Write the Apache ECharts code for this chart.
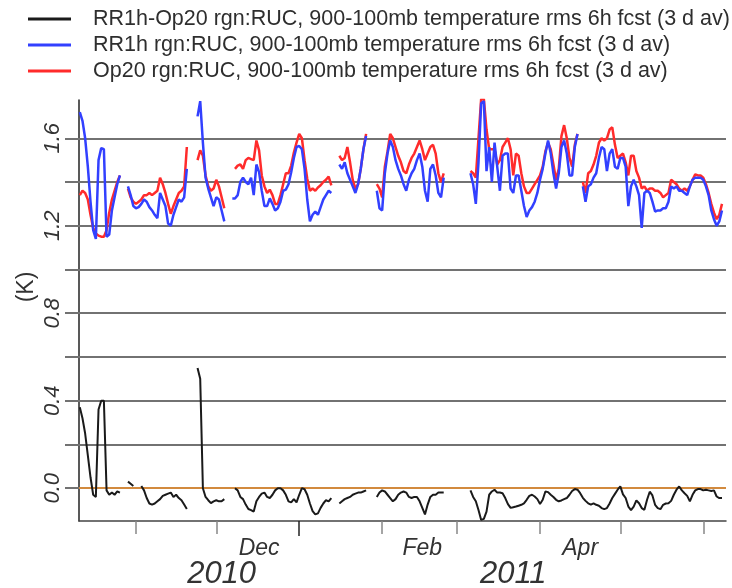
<!DOCTYPE html>
<html><head><meta charset="utf-8">
<script src="https://cdn.jsdelivr.net/npm/echarts@6/dist/echarts.min.js"></script>
<style>html,body{margin:0;padding:0;background:#fff}#c{width:732px;height:588px}</style>
</head><body><div id="c"></div>
<script>
// ---- data (daily values starting at startDate; null = missing) ----
const startDate = '2010-10-11';
const seriesNames = [
  'RR1h-Op20 rgn:RUC, 900-100mb temperature rms 6h fcst (3 d av)',
  'RR1h rgn:RUC, 900-100mb temperature rms 6h fcst (3 d av)',
  'Op20 rgn:RUC, 900-100mb temperature rms 6h fcst (3 d av)'
];
const diffValues = [
  0.37,0.32,0.25,0.15,0.05,-0.03,-0.04,0.36,0.40,0.40,-0.01,-0.03,-0.02,-0.03,-0.015,-0.02,
  null,null,
  0.03,0.02,0.01,null,null,0.01,-0.01,-0.045,-0.07,-0.075,-0.07,-0.06,-0.05,-0.035,-0.03,-0.025,-0.02,-0.04,-0.03,-0.045,-0.055,-0.075,-0.095,
  null,null,null,
  0.55,0.50,0.0,-0.04,-0.055,-0.068,-0.06,-0.055,-0.06,-0.06,-0.05,
  null,null,null,
  0.0,-0.01,-0.04,-0.05,-0.075,-0.095,-0.10,-0.107,-0.06,-0.04,-0.025,-0.02,-0.04,-0.045,-0.03,-0.01,0.0,0.0,-0.01,-0.03,-0.06,-0.065,-0.05,-0.065,-0.03,0.0,-0.005,-0.03,-0.07,-0.105,-0.12,-0.115,-0.09,-0.07,-0.055,-0.06,-0.045,
  null,null,
  -0.07,-0.06,-0.05,-0.045,-0.04,-0.03,-0.025,-0.02,-0.02,-0.015,-0.01,
  null,null,null,
  -0.04,-0.02,-0.01,-0.015,-0.03,-0.045,-0.06,-0.05,-0.03,-0.02,-0.015,-0.02,-0.04,-0.045,-0.04,-0.04,-0.06,-0.09,-0.12,-0.075,-0.04,-0.03,-0.03,-0.02,-0.02,-0.02,
  null,null,null,null,null,null,null,null,null,
  -0.01,-0.04,-0.06,-0.10,-0.145,-0.14,-0.107,-0.03,-0.015,-0.007,-0.02,-0.02,-0.023,-0.045,-0.073,-0.09,-0.087,-0.084,-0.08,-0.076,
  -0.069,-0.053,-0.035,-0.03,-0.038,-0.05,-0.072,-0.053,-0.015,-0.018,-0.03,-0.04,-0.053,-0.06,-0.056,-0.05,-0.045,-0.03,-0.013,-0.004,
  -0.007,-0.023,-0.044,-0.058,-0.069,-0.075,-0.069,-0.076,-0.08,-0.091,-0.096,-0.091,-0.07,-0.045,-0.026,-0.007,0.008,-0.028,-0.045,-0.084,
  -0.10,-0.084,-0.056,-0.069,-0.091,-0.099,-0.053,-0.016,-0.033,-0.076,-0.091,-0.096,-0.076,-0.07,-0.069,-0.058,-0.03,-0.007,0.008,-0.01,
  -0.023,-0.035,-0.06,-0.03,-0.01,-0.004,-0.004,-0.01,-0.007,-0.01,-0.013,-0.01,-0.038,-0.045,-0.045
];
const rr1hValues = [
  1.72,1.68,1.60,1.47,1.31,1.18,1.14,1.50,1.555,1.55,1.15,1.16,1.27,1.33,1.39,1.43,
  null,null,
  1.38,1.34,1.29,1.28,1.285,1.30,1.32,1.31,1.285,1.27,1.25,1.235,1.35,1.32,1.29,1.21,1.20,1.25,1.285,1.32,1.31,1.33,1.46,
  null,null,null,
  1.70,1.77,1.58,1.42,1.37,1.33,1.29,1.33,1.32,1.27,1.22,
  null,null,
  1.325,1.325,1.34,1.40,1.42,1.40,1.39,1.42,1.34,1.48,1.445,1.36,1.29,1.29,1.325,1.30,1.27,1.28,1.31,1.36,1.365,1.39,1.445,1.51,1.56,1.565,1.55,1.46,1.32,1.22,1.25,1.265,1.25,1.285,1.32,1.34,1.36,1.35,
  null,null,
  1.48,1.46,1.49,1.44,1.41,1.38,1.35,1.39,1.46,1.55,1.61,
  null,null,null,
  1.36,1.28,1.27,1.44,1.53,1.59,1.56,1.50,1.46,1.43,1.39,1.36,1.41,1.44,1.46,1.50,1.53,1.47,1.36,1.31,1.46,1.48,1.43,1.35,1.33,1.42,
  null,null,null,null,null,null,null,null,null,
  1.44,1.39,1.30,1.49,1.76,1.77,1.45,1.56,1.40,1.58,1.47,1.36,1.52,1.53,1.53,1.37,1.35,1.43,1.43,1.36,1.29,1.24,1.27,1.285,1.31,1.35,1.41,1.46,1.53,1.59,1.53,1.44,1.37,1.44,1.56,1.59,1.53,1.43,1.43,1.56,1.62,
  null,
  1.38,1.31,1.38,1.39,1.42,1.44,1.51,1.56,1.55,1.45,1.53,1.55,1.47,1.46,1.51,1.51,1.47,1.29,1.38,1.41,1.38,1.34,1.19,1.35,1.36,1.35,1.31,1.265,1.27,1.27,1.28,1.28,1.31,1.38,1.37,1.38,1.36,1.36,1.35,1.34,1.38,1.41,1.42,1.42,1.42,1.41,1.38,1.34,1.27,1.23,1.20,1.22,1.27
];
const op20Values = [
  1.34,1.36,1.35,1.32,1.25,1.19,1.165,1.155,1.15,1.15,1.18,1.26,1.32,1.36,1.40,1.43,
  null,null,
  1.37,1.33,1.31,1.30,1.31,1.32,1.34,1.34,1.35,1.34,1.35,1.36,1.42,1.39,1.35,1.30,1.255,1.29,1.32,1.35,1.36,1.38,1.56,
  null,null,null,
  1.50,1.545,1.52,1.43,1.38,1.36,1.37,1.41,1.38,1.33,1.28,
  null,null,null,
  1.46,1.475,1.48,1.46,1.50,1.51,1.505,1.50,1.59,1.545,1.43,1.38,1.35,1.365,1.34,1.30,1.30,1.34,1.39,1.44,1.44,1.475,1.535,1.58,1.62,1.60,1.50,1.415,1.36,1.37,1.36,1.375,1.385,1.40,1.41,1.425,1.385,
  null,null,
  1.52,1.50,1.51,1.56,1.49,1.41,1.37,1.39,1.46,1.55,1.62,
  null,null,null,
  1.39,1.37,1.33,1.47,1.54,1.62,1.60,1.56,1.52,1.49,1.45,1.44,1.48,1.51,1.53,1.56,1.59,1.55,1.50,1.53,1.56,1.57,1.53,1.44,1.40,1.44,
  null,null,null,null,null,null,null,null,null,
  1.45,1.44,1.42,1.60,1.78,1.78,1.64,1.55,1.55,1.55,1.48,1.50,1.56,1.58,1.60,1.55,1.43,1.53,1.52,1.44,1.38,1.35,1.35,1.37,1.39,1.41,1.43,1.47,1.54,1.58,1.55,1.48,1.41,1.46,1.61,1.66,1.60,1.51,1.47,1.57,1.62,
  null,
  1.40,1.35,1.44,1.45,1.48,1.52,1.58,1.60,1.59,1.60,1.64,1.65,1.57,1.51,1.52,1.53,1.49,1.43,1.52,1.52,1.45,1.42,1.37,1.38,1.36,1.37,1.37,1.36,1.36,1.35,1.33,1.34,1.35,1.41,1.40,1.39,1.37,1.36,1.37,1.36,1.38,1.41,1.435,1.43,1.43,1.42,1.39,1.35,1.30,1.26,1.23,1.25,1.30
];
const axisMinDate = '2010-10-10T16:48:00Z';
const axisMaxDate = '2011-06-09T12:00:00Z';
const monthTickDates = ['2010-11-01','2010-12-01','2011-02-01','2011-03-01','2011-04-01','2011-05-01','2011-06-01'];
const yearTickDates = ['2011-01-01'];
const monthLabelDates = ['2010-12-17','2011-02-16','2011-04-16'];
const monthLabels = ['Dec','Feb','Apr'];
const yearLabelDates = ['2010-12-03','2011-03-22'];
const yearLabels = ['2010','2011'];
const yTickValues = [0,0.2,0.4,0.6,0.8,1.0,1.2,1.4,1.6];
const yLabelValues = [0,0.4,0.8,1.2,1.6];
const yMin = -0.15, yMax = 1.775;

// ---- build (x axis in days since startDate) ----
const DAY = 86400000;
const t0 = Date.parse(startDate);
const dayOf = s => (Date.parse(s) - t0) / DAY;
const toPairs = vals => vals.map((v, i) => [i, v === null ? '-' : v]);
const nearestLabel = (dates, labels) => v => {
  let best = 0, bd = Infinity;
  dates.forEach((d, i) => { const dd = Math.abs(dayOf(d) - v); if (dd < bd) { bd = dd; best = i; } });
  return labels[best];
};
const FONT = 'Liberation Sans, Arial, Helvetica, sans-serif';
const chart = echarts.init(document.getElementById('c'), null, {renderer: 'canvas'});
chart.setOption({
  animation: false,
  textStyle: {fontFamily: FONT},
  grid: {left: 79, right: 6, top: 100, bottom: 67, containLabel: false, outerBoundsMode: 'none'},
  legend: {
    orient: 'vertical', left: 28, top: 8, padding: 0, itemWidth: 43, itemHeight: 3, itemGap: 4, icon: 'rect',
    data: seriesNames,
    textStyle: {fontSize: 21.5, color: '#2e2e2e', fontFamily: FONT, lineHeight: 22, padding: [0, 0, 0, 17]}
  },
  xAxis: [{
    type: 'value', min: dayOf(axisMinDate), max: dayOf(axisMaxDate), position: 'bottom',
    axisLine: {show: true, onZero: false, lineStyle: {color: '#444', width: 1.5}},
    axisTick: {show: true, customValues: monthTickDates.map(dayOf), length: 13, lineStyle: {color: '#888', width: 1.5}},
    axisLabel: {customValues: monthLabelDates.map(dayOf), formatter: nearestLabel(monthLabelDates, monthLabels),
      fontSize: 23, fontStyle: 'italic', color: '#333', margin: 16, fontFamily: FONT},
    splitLine: {show: false}
  }, {
    type: 'value', min: dayOf(axisMinDate), max: dayOf(axisMaxDate), position: 'bottom', offset: 0,
    axisLine: {show: false, onZero: false},
    axisTick: {show: true, customValues: yearTickDates.map(dayOf), length: 15, lineStyle: {color: '#222', width: 1.5}},
    axisLabel: {customValues: yearLabelDates.map(dayOf), formatter: nearestLabel(yearLabelDates, yearLabels),
      fontSize: 31, fontStyle: 'italic', color: '#333', margin: 38, fontFamily: FONT},
    splitLine: {show: false}
  }],
  yAxis: {
    type: 'value', min: yMin, max: yMax,
    axisLine: {show: true, onZero: false, lineStyle: {color: '#222', width: 1.5}},
    axisTick: {show: true, customValues: yTickValues, length: 14, lineStyle: {color: '#727272', width: 2}},
    axisLabel: {customValues: yLabelValues, formatter: v => v.toFixed(1), rotate: 90, margin: 15,
      fontSize: 22, fontStyle: 'italic', color: '#333', fontFamily: FONT},
    splitLine: {show: false}
  },
  graphic: [{
    type: 'text', x: 27, y: 287, rotation: Math.PI / 2,
    style: {text: '(K)', fontSize: 23, fontFamily: FONT, fill: '#333', align: 'center', verticalAlign: 'middle'}
  }],
  series: [{
    name: 'gridlines', type: 'line', data: [], silent: true, z: 1,
    markLine: {
      silent: true, symbol: ['none', 'none'], z: 1, animation: false,
      label: {show: false},
      lineStyle: {color: '#727272', width: 2, type: 'solid'},
      data: yTickValues.map(v => ({yAxis: v})).concat([{yAxis: 0, lineStyle: {color: '#d28a3e', width: 2.2, type: 'solid'}}])
    }
  }, {
    name: seriesNames[0], type: 'line', data: toPairs(diffValues), showSymbol: false, symbol: 'none',
    connectNulls: false, z: 3, color: '#1a1a1a', lineStyle: {color: '#1a1a1a', width: 2}
  }, {
    name: seriesNames[2], type: 'line', data: toPairs(op20Values), showSymbol: false, symbol: 'none',
    connectNulls: false, z: 3, color: '#ff2b2b', lineStyle: {color: '#ff2b2b', width: 2.5}
  }, {
    name: seriesNames[1], type: 'line', data: toPairs(rr1hValues), showSymbol: false, symbol: 'none',
    connectNulls: false, z: 4, color: '#3240ff', lineStyle: {color: '#3240ff', width: 2.5}
  }]
});
</script>
</body></html>
